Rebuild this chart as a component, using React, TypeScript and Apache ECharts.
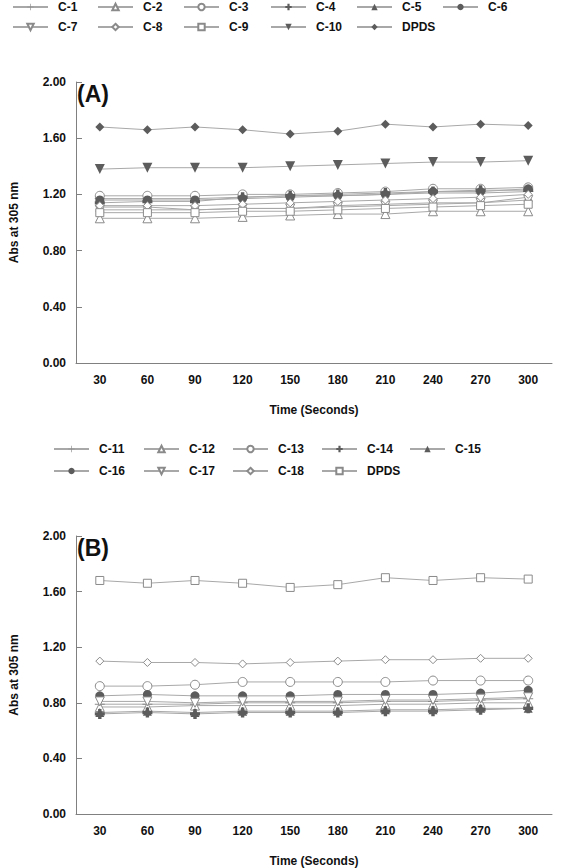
import React, { useEffect, useRef } from "react";
import * as echarts from "echarts";

const times = ["30", "60", "90", "120", "150", "180", "210", "240", "270", "300"];
const yTicks = { min: 0, max: 2, interval: 0.4 };

// Panel A
const c1 = [1.17, 1.17, 1.17, 1.18, 1.19, 1.19, 1.2, 1.21, 1.21, 1.22];
const c2 = [1.03, 1.03, 1.03, 1.04, 1.05, 1.06, 1.06, 1.08, 1.08, 1.08];
const c3 = [1.19, 1.19, 1.19, 1.2, 1.2, 1.21, 1.22, 1.24, 1.24, 1.25];
const c4 = [1.14, 1.15, 1.15, 1.18, 1.19, 1.2, 1.21, 1.22, 1.23, 1.23];
const c5 = [1.11, 1.11, 1.09, 1.1, 1.1, 1.12, 1.13, 1.14, 1.14, 1.18];
const c6 = [1.16, 1.16, 1.16, 1.17, 1.18, 1.19, 1.2, 1.22, 1.22, 1.24];
const c7 = [1.09, 1.09, 1.09, 1.1, 1.1, 1.11, 1.12, 1.13, 1.14, 1.16];
const c8 = [1.12, 1.12, 1.12, 1.13, 1.14, 1.15, 1.16, 1.17, 1.18, 1.2];
const c9 = [1.07, 1.07, 1.07, 1.08, 1.08, 1.09, 1.1, 1.11, 1.12, 1.13];
const c10 = [1.38, 1.39, 1.39, 1.39, 1.4, 1.41, 1.42, 1.43, 1.43, 1.44];
const dpdsA = [1.68, 1.66, 1.68, 1.66, 1.63, 1.65, 1.7, 1.68, 1.7, 1.69];

// Panel B
const c11 = [0.79, 0.79, 0.79, 0.8, 0.8, 0.8, 0.81, 0.81, 0.82, 0.83];
const c12 = [0.77, 0.77, 0.78, 0.78, 0.78, 0.78, 0.79, 0.79, 0.8, 0.8];
const c13 = [0.92, 0.92, 0.93, 0.95, 0.95, 0.95, 0.95, 0.96, 0.96, 0.96];
const c14 = [0.72, 0.73, 0.72, 0.73, 0.73, 0.73, 0.74, 0.74, 0.75, 0.76];
const c15 = [0.73, 0.74, 0.73, 0.74, 0.74, 0.74, 0.75, 0.75, 0.76, 0.76];
const c16 = [0.85, 0.86, 0.85, 0.85, 0.85, 0.86, 0.86, 0.86, 0.87, 0.89];
const c17 = [0.81, 0.81, 0.8, 0.81, 0.81, 0.81, 0.82, 0.82, 0.83, 0.84];
const c18 = [1.1, 1.09, 1.09, 1.08, 1.09, 1.1, 1.11, 1.11, 1.12, 1.12];
const dpdsB = [1.68, 1.66, 1.68, 1.66, 1.63, 1.65, 1.7, 1.68, 1.7, 1.69];

const namesA = ["C-1", "C-2", "C-3", "C-4", "C-5", "C-6", "C-7", "C-8", "C-9", "C-10", "DPDS"];
const dataA = [c1, c2, c3, c4, c5, c6, c7, c8, c9, c10, dpdsA];
const namesB = ["C-11", "C-12", "C-13", "C-14", "C-15", "C-16", "C-17", "C-18", "DPDS"];
const dataB = [c11, c12, c13, c14, c15, c16, c17, c18, dpdsB];

const LINE = "#a8a8a8";
const DARK = "#5c5c5c";
const OPEN = "#8a8a8a";
const FONT = "'Liberation Sans', Arial, sans-serif";

const SYM = {
  thinPlus: "path://M4.5,0h1v4.5h4.5v1h-4.5v4.5h-1v-4.5h-4.5v-1h4.5z",
  boldPlus: "path://M3.3,0h3.4v3.3h3.3v3.4h-3.3v3.3h-3.4v-3.3h-3.3v-3.4h3.3z",
  triDown: "path://M0,0L10,0L5,9Z",
  triUp: "path://M5,0L10,9L0,9Z",
};

type Sty = { symbol: string; size: number; fill: string; stroke?: string };
const thinPlus: Sty = { symbol: SYM.thinPlus, size: 10, fill: OPEN };
const openTri: Sty = { symbol: SYM.triUp, size: 9, fill: "#fff", stroke: OPEN };
const openCirc: Sty = { symbol: "circle", size: 9, fill: "#fff", stroke: OPEN };
const boldPlus: Sty = { symbol: SYM.boldPlus, size: 10, fill: DARK };
const fillTri: Sty = { symbol: SYM.triUp, size: 9, fill: DARK };
const fillCirc: Sty = { symbol: "circle", size: 9, fill: DARK };
const openTriDown: Sty = { symbol: SYM.triDown, size: 9, fill: "#fff", stroke: OPEN };
const openDiam: Sty = { symbol: "diamond", size: 8, fill: "#fff", stroke: OPEN };
const openSq: Sty = { symbol: "rect", size: 8, fill: "#fff", stroke: OPEN };
const fillTriDown: Sty = { symbol: SYM.triDown, size: 10, fill: DARK };
const fillDiam: Sty = { symbol: "diamond", size: 9, fill: DARK };

const stylesA: Sty[] = [thinPlus, openTri, openCirc, boldPlus, fillTri, fillCirc, openTriDown, openDiam, openSq, fillTriDown, fillDiam];
const stylesB: Sty[] = [thinPlus, openTri, openCirc, boldPlus, fillTri, fillCirc, openTriDown, openDiam, openSq];

const GRID_A = { left: 65, top: 82, width: 487, height: 281 };
const GRID_B = { left: 65, top: 536, width: 487, height: 281 };

function mkSeries(name: string, data: number[], s: Sty, idx: number) {
  return {
    type: "line",
    name,
    data,
    xAxisIndex: idx,
    yAxisIndex: idx,
    symbol: s.symbol,
    symbolSize: s.size,
    showAllSymbol: true,
    lineStyle: { color: LINE, width: 1 },
    itemStyle: {
      color: s.fill,
      borderColor: s.stroke || s.fill,
      borderWidth: s.stroke ? 1 : 0,
    },
    emphasis: { disabled: true },
    z: 2,
  };
}

function mkLegend(name: string, left: number, top: number) {
  return {
    data: [name],
    left,
    top,
    padding: 0,
    itemWidth: 35,
    itemHeight: 8,
    selectedMode: false,
    textStyle: {
      fontFamily: FONT,
      fontWeight: "bold",
      fontSize: 12,
      color: "#111",
      padding: [0, 0, 0, 5],
    },
  };
}

function mkX(idx: number) {
  return {
    type: "category",
    gridIndex: idx,
    data: times,
    boundaryGap: true,
    name: "Time (Seconds)",
    nameLocation: "middle",
    nameGap: 41,
    nameTextStyle: { fontFamily: FONT, fontWeight: "bold", fontSize: 12, color: "#111" },
    axisLine: { lineStyle: { color: "#808080", width: 1 } },
    axisTick: { inside: true, length: 6, alignWithLabel: true, lineStyle: { color: "#808080" } },
    axisLabel: { fontFamily: FONT, fontWeight: "bold", fontSize: 12, color: "#111", margin: 11 },
    splitLine: { show: false },
  };
}

function mkY(idx: number) {
  return {
    type: "value",
    gridIndex: idx,
    min: yTicks.min,
    max: yTicks.max,
    interval: yTicks.interval,
    name: "Abs at 305 nm",
    nameLocation: "middle",
    nameGap: 56,
    nameTextStyle: { fontFamily: FONT, fontWeight: "bold", fontSize: 12, color: "#111" },
    axisLine: { show: true, lineStyle: { color: "#808080", width: 1 } },
    axisTick: { show: true, inside: true, length: 6, lineStyle: { color: "#808080" } },
    axisLabel: {
      fontFamily: FONT,
      fontWeight: "bold",
      fontSize: 12,
      color: "#111",
      margin: 10,
      formatter: (v: number) => v.toFixed(2),
    },
    splitLine: { show: false },
  };
}

export default function App() {
  const ref = useRef<HTMLDivElement>(null);
  useEffect(() => {
    if (!ref.current) return;
    const chart = echarts.init(ref.current, undefined, { renderer: "svg" });
    const colsA = [12, 97, 183, 270, 356, 442];
    const colsB = [53, 143, 232, 321, 409];
    const legends: any[] = [];
    namesA.forEach((n, i) => {
      const row = i < 6 ? 0 : 1;
      const col = i < 6 ? i : i - 6;
      legends.push(mkLegend(n, colsA[col], row === 0 ? 1 : 21));
    });
    namesB.forEach((n, i) => {
      const row = i < 5 ? 0 : 1;
      const col = i < 5 ? i : i - 5;
      legends.push(mkLegend(n === "DPDS" ? "DPDS " : n, colsB[col], row === 0 ? 443 : 465));
    });
    const series: any[] = [];
    namesA.forEach((n, i) => series.push(mkSeries(n, dataA[i], stylesA[i], 0)));
    namesB.forEach((n, i) => {
      series.push(mkSeries(n === "DPDS" ? "DPDS " : n, dataB[i], stylesB[i], 1));
    });
    chart.setOption({
      animation: false,
      backgroundColor: "#fff",
      title: [
        { text: "(A)", left: 77, top: 82, padding: 0, textStyle: { fontFamily: FONT, fontWeight: "bold", fontSize: 23, color: "#111" } },
        { text: "(B)", left: 77, top: 536, padding: 0, textStyle: { fontFamily: FONT, fontWeight: "bold", fontSize: 23, color: "#111" } },
      ],
      legend: legends,
      grid: [GRID_A, GRID_B],
      xAxis: [mkX(0), mkX(1)],
      yAxis: [mkY(0), mkY(1)],
      series,
    });
    return () => chart.dispose();
  }, []);
  return (
    <div
      ref={ref}
      style={{ position: "absolute", left: 0, top: 0, width: 561, height: 868 }}
    />
  );
}
